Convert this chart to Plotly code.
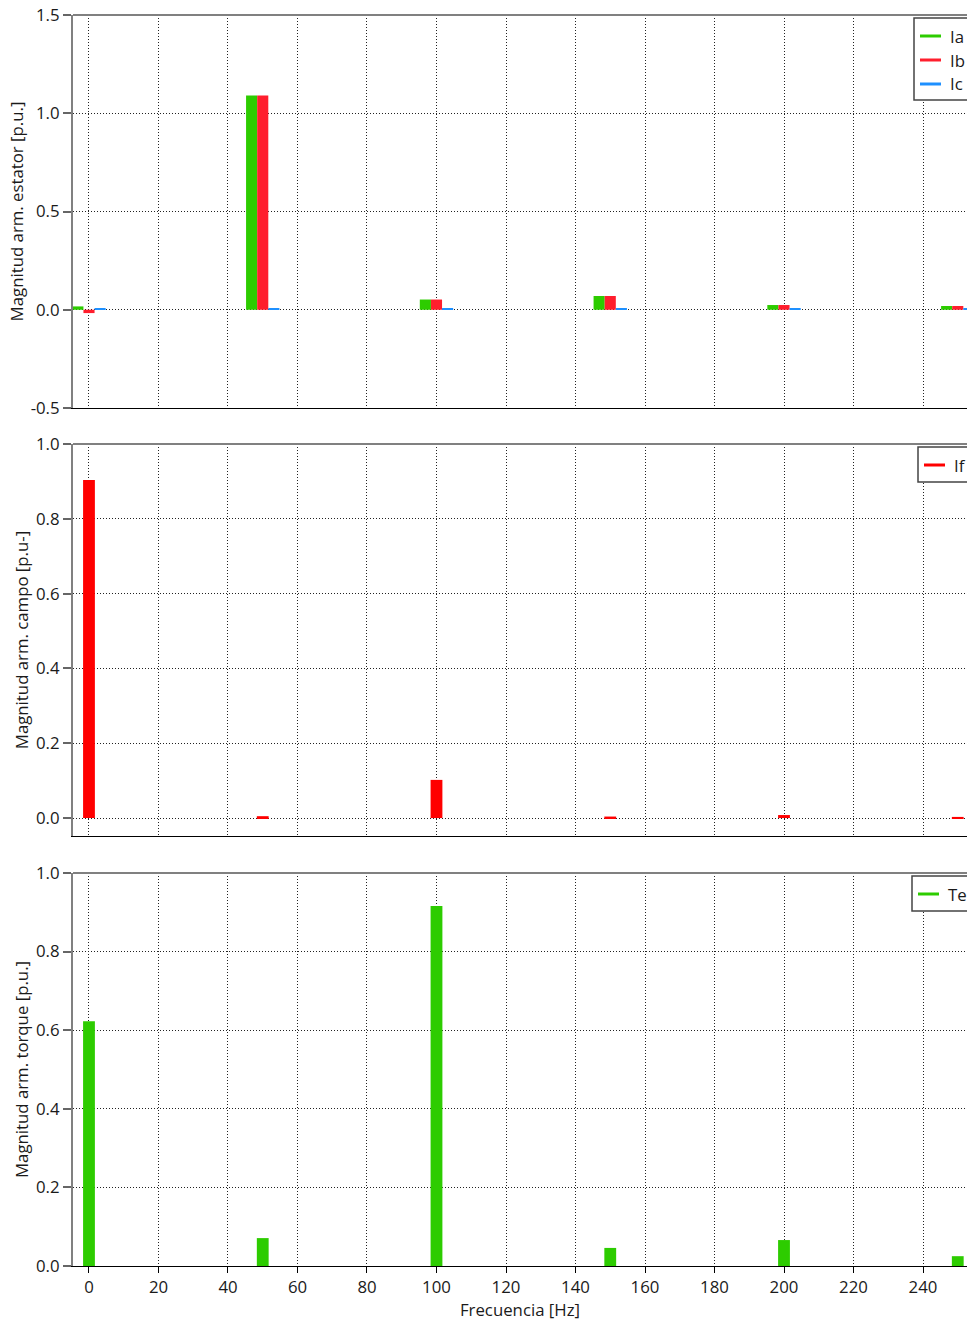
import plotly.graph_objects as go

# ---------------- data ----------------
freq = [0, 50, 100, 150, 200, 250]
ia = [0.017, 1.09, 0.052, 0.070, 0.024, 0.019]
ib = [-0.017, 1.09, 0.052, 0.070, 0.024, 0.019]
ic = [0.004, 0.004, 0.004, 0.004, 0.004, 0.004]
i_f = [0.904, 0.005, 0.102, 0.004, 0.008, 0.003]
te = [0.623, 0.071, 0.916, 0.046, 0.066, 0.025]

x_ticks = [0, 20, 40, 60, 80, 100, 120, 140, 160, 180, 200, 220, 240]
y1_ticks = [-0.5, 0.0, 0.5, 1.0, 1.5]
y1_labels = ["-0.5", "0.0", "0.5", "1.0", "1.5"]
y23_ticks = [0.0, 0.2, 0.4, 0.6, 0.8, 1.0]
y23_labels = ["0.0", "0.2", "0.4", "0.6", "0.8", "1.0"]

GREEN = "#2dcc00"
RED_B = "#ff1e2d"
RED_F = "#ff0000"
BLUE = "#1e90ff"
FONT = "Open Sans"
TXT = "#1a1a1a"
FS = 16.8

fig = go.Figure()

w3 = 3.2
for vals, col, off in [(ia, GREEN, -1.5), (ib, RED_B, -0.5), (ic, BLUE, 0.5)]:
    fig.add_trace(go.Bar(x=freq, y=vals, width=w3, offset=off * w3, marker=dict(color=col, line=dict(width=0)),
                         showlegend=False, xaxis="x", yaxis="y"))

w1 = 3.4
fig.add_trace(go.Bar(x=freq, y=i_f, width=w1, marker=dict(color=RED_F, line=dict(width=0)), showlegend=False,
                     xaxis="x2", yaxis="y2"))
fig.add_trace(go.Bar(x=freq, y=te, width=w1, marker=dict(color=GREEN, line=dict(width=0)), showlegend=False,
                     xaxis="x3", yaxis="y3"))

xr = [-4.6, 252.66]
H = 1251.0
W = 894.0
def px_x(p):
    return (p - 73) / W
def px_y(p):
    return (1266 - p) / H
def dom(top_px, bot_px):
    return [px_y(bot_px), px_y(top_px)]

d1 = dom(15, 408)
d2 = dom(444, 836)
d3 = dom(873, 1266)

grid = dict(showgrid=True, gridcolor="#222222", gridwidth=1, griddash="1px,2px", zeroline=False)
xcommon = dict(range=xr, tickvals=x_ticks, showline=True, linecolor="black", linewidth=1, **grid,
               tickfont=dict(family=FONT, size=FS, color=TXT))
ycommon = dict(showline=True, linecolor="#808080", linewidth=2, ticks="outside", ticklen=8, tickcolor="#666",
               tickwidth=1.5, tickfont=dict(family=FONT, size=FS, color=TXT), **grid)

title_font = dict(family=FONT, size=FS, color=TXT)

fig.update_layout(
    width=967, height=1323,
    margin=dict(l=73, r=0, t=15, b=57, autoexpand=False),
    paper_bgcolor="white", plot_bgcolor="white",
    barmode="overlay",
    showlegend=False,
    xaxis=dict(domain=[0, 1], anchor="y", showticklabels=False, ticks="", **xcommon),
    xaxis2=dict(domain=[0, 1], anchor="y2", matches="x", showticklabels=False, ticks="", **xcommon),
    xaxis3=dict(domain=[0, 1], anchor="y3", matches="x", ticks="outside", ticklen=6, tickcolor="black",
                title=dict(text="Frecuencia [Hz]", font=title_font, standoff=3), **xcommon),
    yaxis=dict(domain=d1, range=[-0.5, 1.5], tickvals=y1_ticks, ticktext=y1_labels,
               title=dict(text="Magnitud arm. estator [p.u.]", font=title_font, standoff=3), **ycommon),
    yaxis2=dict(domain=d2, range=[-0.048, 1.0], tickvals=y23_ticks, ticktext=y23_labels,
                title=dict(text="Magnitud arm. campo [p.u-]", font=title_font, standoff=3), **ycommon),
    yaxis3=dict(domain=d3, range=[0, 1.0], tickvals=y23_ticks, ticktext=y23_labels,
                title=dict(text="Magnitud arm. torque [p.u.]", font=title_font, standoff=3), **ycommon),
)

# grey top borders of each panel
for yref in ["y domain", "y2 domain", "y3 domain"]:
    fig.add_shape(type="line", xref="paper", yref=yref, x0=0, x1=1, y0=1, y1=1,
                  line=dict(color="#808080", width=2), layer="above")

# legends (box, line swatch, label) drawn in pixel-derived paper coordinates
legends = [
    (914, 18, 100, [("Ia", GREEN, 36), ("Ib", RED_B, 60), ("Ic", BLUE, 84)]),
    (918, 447, 482, [("If", RED_F, 465)]),
    (912, 876, 911, [("Te", GREEN, 894)]),
]
for left, top, bot, items in legends:
    fig.add_shape(type="rect", xref="paper", yref="paper", x0=px_x(left), x1=px_x(990),
                  y0=px_y(bot), y1=px_y(top), line=dict(color="#444", width=1.5), fillcolor="white", layer="above")
    for name, col, yy in items:
        fig.add_shape(type="line", xref="paper", yref="paper", x0=px_x(left + 6), x1=px_x(left + 27),
                      y0=px_y(yy), y1=px_y(yy), line=dict(color=col, width=3), layer="above")
        fig.add_annotation(xref="paper", yref="paper", x=px_x(left + 34), y=px_y(yy), text=name,
                           showarrow=False, xanchor="left", yanchor="middle",
                           font=dict(family=FONT, size=FS, color=TXT))

fig.write_html("out.html")
